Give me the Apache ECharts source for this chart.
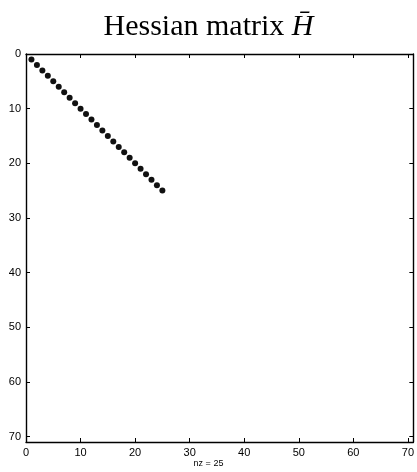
<!DOCTYPE html>
<html>
<head>
<meta charset="utf-8">
<script src="https://cdn.jsdelivr.net/npm/echarts@6/dist/echarts.min.js"></script>
<style>
  html, body { margin: 0; padding: 0; background: #fff; }
  #chart { width: 417px; height: 472px; }
</style>
</head>
<body>
<div id="chart"></div>
<script>
// nonzero positions of the matrix (column, row)
const nzCols = [1, 2, 3, 4, 5, 6, 7, 8, 9, 10, 11, 12, 13, 14, 15, 16, 17, 18, 19, 20, 21, 22, 23, 24, 25]
const nzRows = [1, 2, 3, 4, 5, 6, 7, 8, 9, 10, 11, 12, 13, 14, 15, 16, 17, 18, 19, 20, 21, 22, 23, 24, 25]
const axisMax = 71
const tickStep = 10
const xLabel = 'nz = 25'

const chart = echarts.init(document.getElementById('chart'))

const points = nzCols.map((c, i) => [c, nzRows[i]])

// common axis style: black box, inner ticks
function makeAxis(pos, showLabel, inverse) {
  return {
    type: 'value',
    position: pos,
    min: 0,
    max: axisMax,
    interval: tickStep,
    inverse: inverse,
    splitLine: { show: false },
    axisLine: { show: true, onZero: false, lineStyle: { color: '#000', width: 1.4 } },
    axisTick: { show: true, inside: true, length: 4, lineStyle: { color: '#000', width: 1 } },
    axisLabel: {
      show: showLabel,
      color: '#000',
      fontFamily: 'Liberation Sans, Arial, sans-serif',
      fontSize: 11,
      margin: 5,
      showMaxLabel: false
    }
  }
}

const option = {
  animation: false,
  title: {
    text: 'Hessian matrix {h|H\u0304}',
    left: 'center',
    top: 7,
    textStyle: {
      fontFamily: 'Liberation Serif, DejaVu Serif, serif',
      fontWeight: 'normal',
      fontSize: 30,
      color: '#000',
      rich: {
        h: {
          fontFamily: 'Liberation Serif, DejaVu Serif, serif',
          fontStyle: 'italic',
          fontSize: 30,
          color: '#000'
        }
      }
    }
  },
  grid: { left: 26, top: 54, width: 389, height: 388 },
  xAxis: [
    makeAxis('bottom', true, false),
    makeAxis('top', false, false)
  ],
  yAxis: [
    makeAxis('left', true, true),
    makeAxis('right', false, true)
  ],
  graphic: [{
    type: 'text',
    left: 'center',
    top: 459,
    style: {
      text: xLabel,
      fontFamily: 'Liberation Sans, Arial, sans-serif',
      fontSize: 9,
      fill: '#000'
    }
  }],
  series: [{
    type: 'scatter',
    xAxisIndex: 0,
    yAxisIndex: 0,
    data: points,
    symbolSize: 6,
    itemStyle: { color: '#111', opacity: 1 }
  }]
}

chart.setOption(option)
</script>
</body>
</html>
